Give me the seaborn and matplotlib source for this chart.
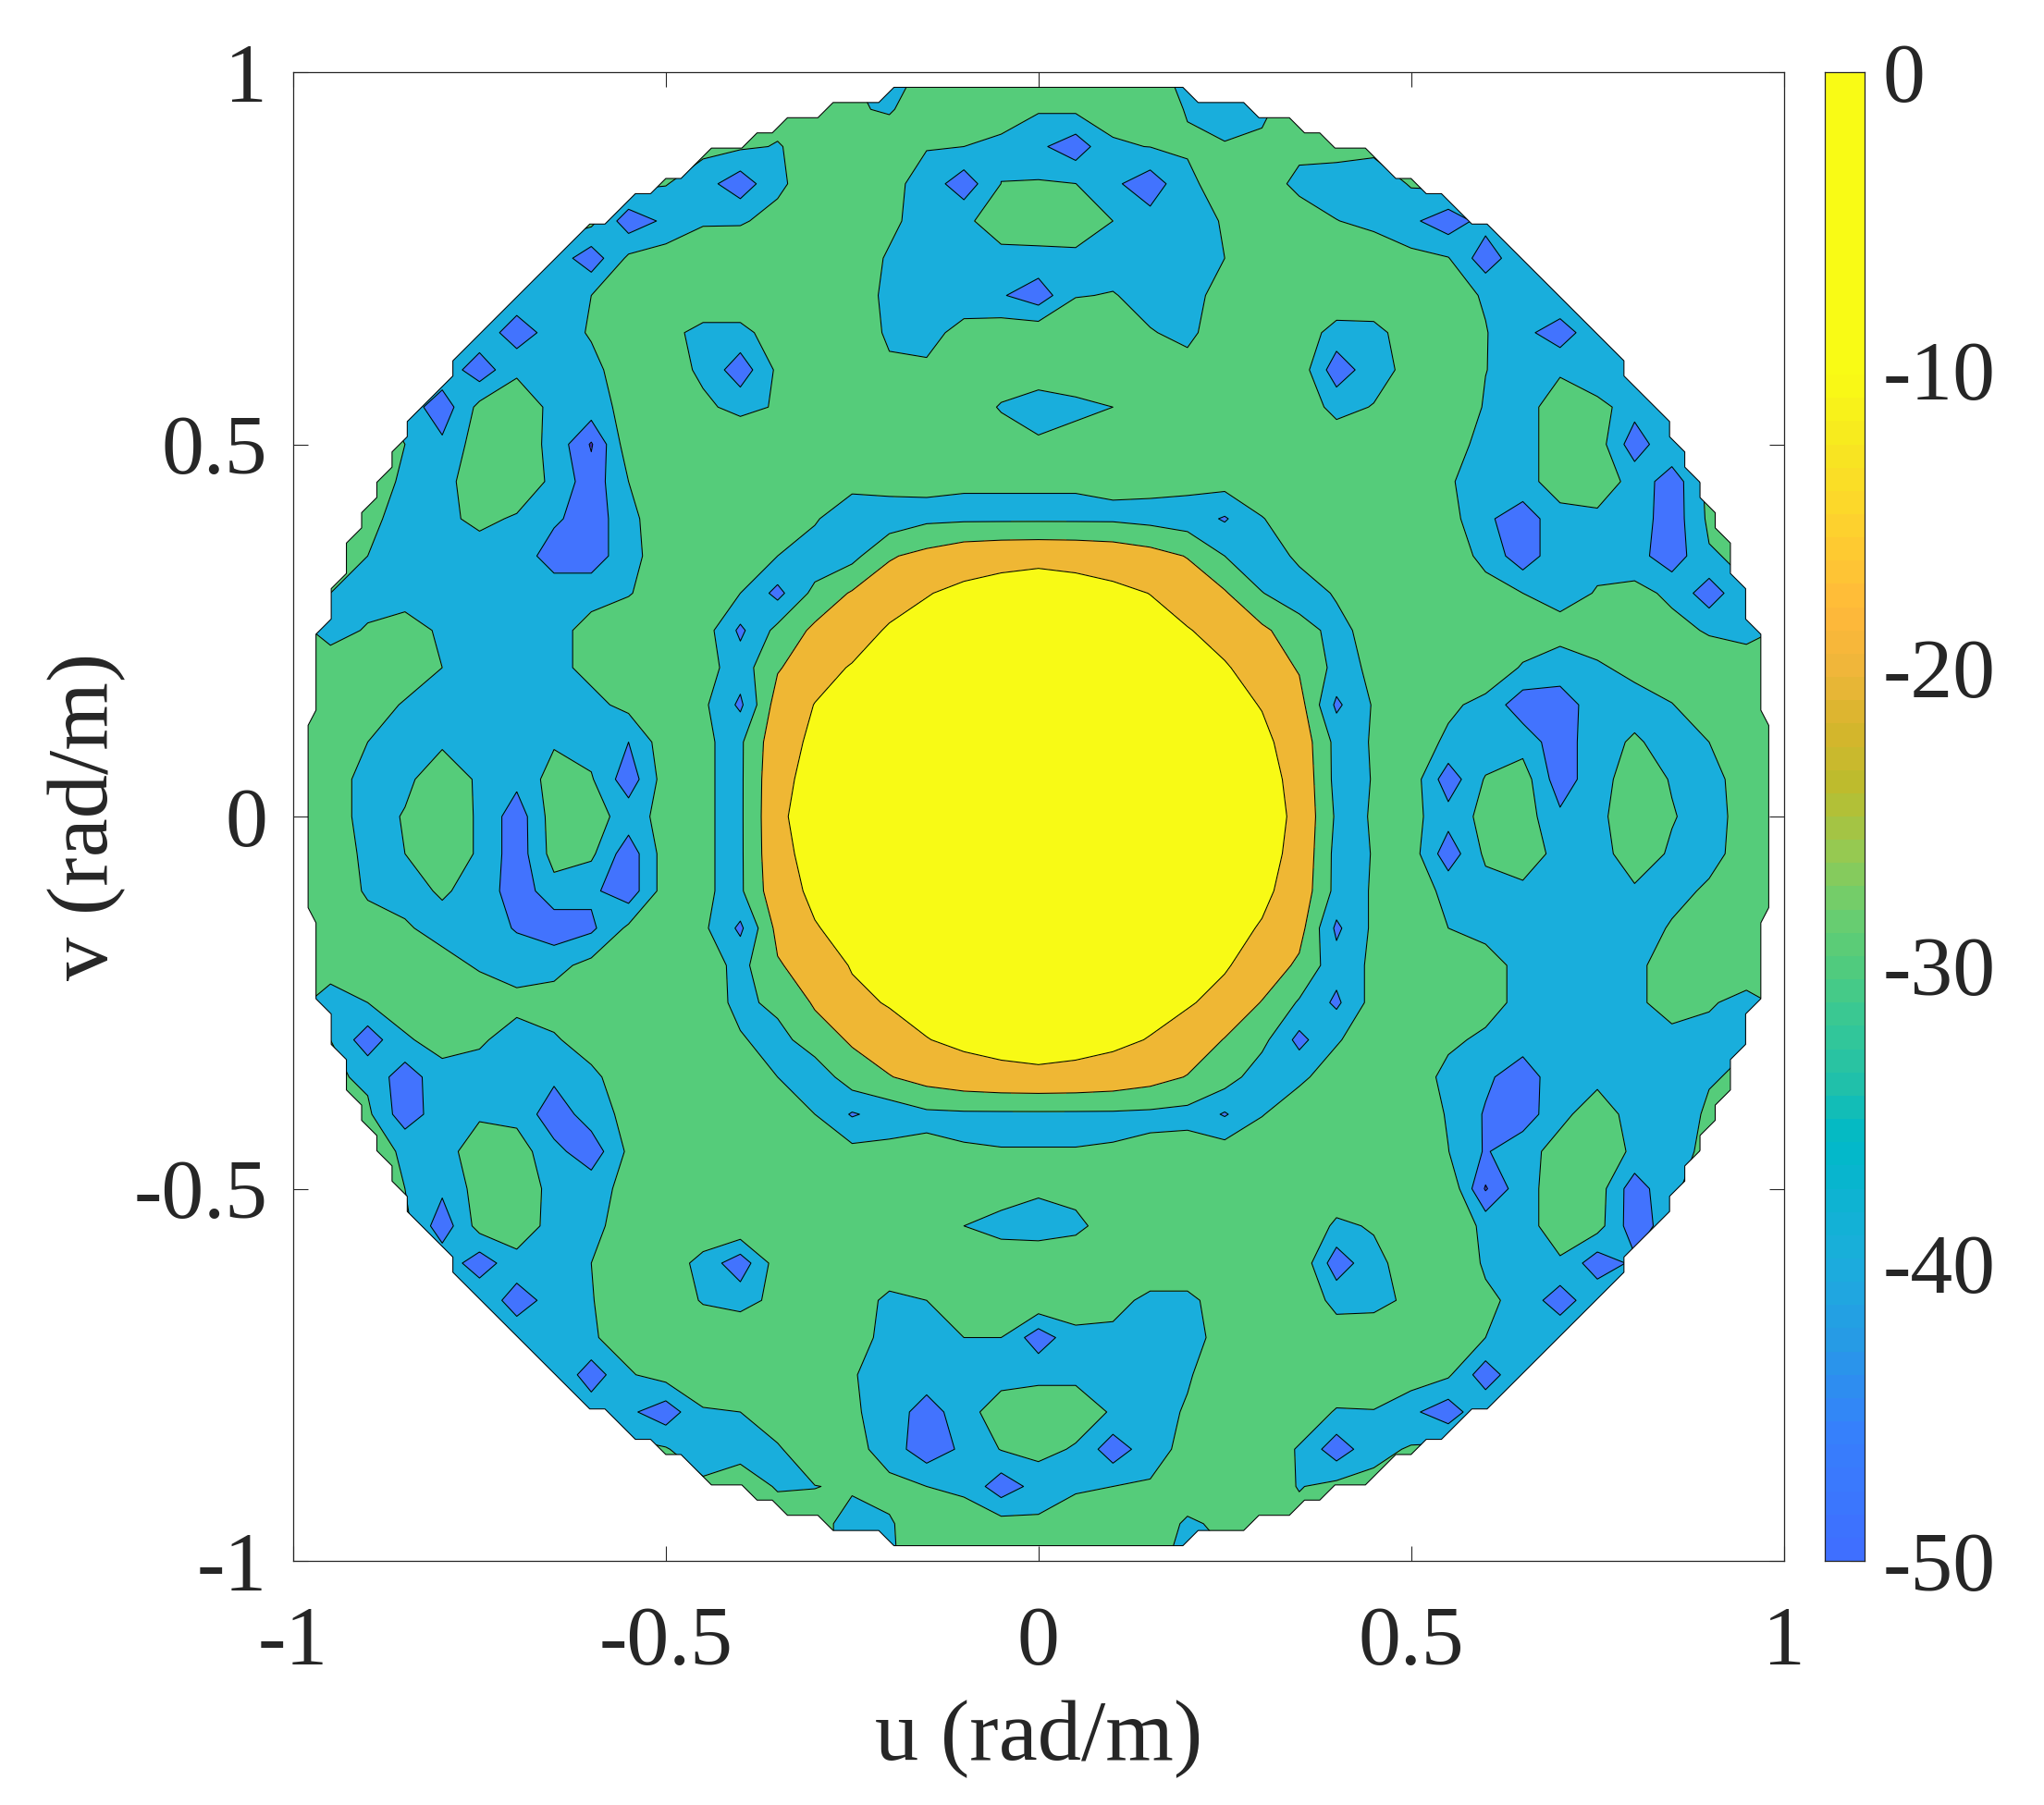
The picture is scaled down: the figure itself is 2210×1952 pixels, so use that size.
import numpy as np
import matplotlib
matplotlib.use("Agg")
import matplotlib.pyplot as plt
from matplotlib.colors import LinearSegmentedColormap
from matplotlib.patches import Polygon
import seaborn as sns

# Beam pattern in dB, v = +1 ... -1 (rows), u = -1 ... +1 (columns), step 0.05
u_axis = np.linspace(-1, 1, 41)
v_axis = np.linspace(1, -1, 41)
E = -27  # level outside the visible disc
pattern_db = [
 [E]*15+[-30,-36,E,E,E,E,E,E,E,-33,-36,-30]+[E]*14,
 [E]*15+[-29.5,-30.5,E,E,E,-29,-28,E,-26,-30.5,-36,-31]+[E]*14,
 [E]*12+[-28.5,-30.5,E,E,E,-29.5,-30,-31.5,-38,-46,-31,-29.8,-29,-29,-29,-29,E]+[E]*12,
 [E]*10+[-29.5,-36,-46,-32,-24.6,-25,E,-34,-46,-29.9,-29,-29.9,-38,-46,-32,-25.7,-28,-31,-34,-37,-29]+[E]*10,
 [E]*9+[-46,-38,-31,-31,E,-25,-25,-28,-34,-32,-25,-24,-25,-30,-36,-34,-29.2,-26,-28,-29.8,-32,-38,-46,-36]+[E]*8,
 [E]*7+[-34,-46,-28,-25,-24,-23,-23,-24,-25,-31,-35,-33,-33,-33,-32,-34,-35,-34,-30,-25,-24,-24,-25,E,-29.5,-46,-32,-29]+[E]*6,
 [E]*6+[-33,-38,-30,-25,-23,-22,-22,-22,-22,-23,-33,-35,-35,-39,-46,-30.5,-29.5,-33,-33,-26.8,-23,-22,-22,-23,-24,-26,-31,-38,-30]+[E]*6,
 [E]*5+[-33,-46,-35,-29,-24,E,-33,-33,-25,-22,-22,-32,-33,E,-24,-23,-22,-22,-29.5,-32,-25,-22,-24,-34,-33,-25,-24,-29.5,-37,-46,-32]+[E]*5,
 [E]*4+[-33,-46,-32,-33,-33,-24,-25,-32,-46,-28,-23,-21,-28,-28.5,-24,-23,-23,-22,-22,-23,E,-23,-22,-24,-46,-34,E,-24,-29.8,-34,-31,-40,-34,-30]+[E]*3,
 [E]*3+[-34,-46,E,-23,-33,-34,E,-26,-28,-33,-29,-24,-21,-21,-22,-23,-31,-36,-33,-30,-25,-23,-21,-21,-24,-33,-29.5,-24,-21,-31,-33,-26,-26,-36,-34,-30]+[E]*2,
 [E]*3+[-30,-38,-25,-24,-33,-51,-24,-22,-21,-21,-21,-21,-21,-21,-21,-21,-24,-28,-25,-23,-21,-21,-21,-21,-22,-24,-23,-21,-22,-36,-33,-26,-25,-46,-31,-28]+[E]*2,
 [E]*2+[E,-31,-33,-25,-24,-32,-46,-30,-24,-21,-21,-21,-22,-25,-26,-28.5,-29.3,-29.3,-29.3,-29.3,-28.5,-27.5,E,-26,-23,-22,-22,-22,-22,-28,-39,-33,-26,-25,-33,-46,E]+[E]*2,
 [E]*2+[-28,-33,-32,-28,-31,-38,-46,-33,-23,-23,-22,-23,-28.5,-40,-36,-32,-31.5,-31.5,-31.5,-31.5,-31.5,-33,-35,-41,-30.5,-24,-22,-22,-22,-26,-38,-46,-33,-32,-34,-46,-28]+[E]*2,
 [-28,-28,-30,-33,-34,-34,-33,-46,-46,-33,-25,-25,-26,-30,-37,-33,-21,-17,-13,-11.5,-11,-11.5,-13,-16,-20.5,-30,-36,-28,-22,-21,-21,-24,-33,-46,-33,-32,-36,-46,-31,-28,-28],
 [-28,-30,-32,-34,-34,-34,-34,-33,-33,-30.5,-26,-24,-30,-43,E,-19,-14,-10.3,-8.6,-8.2,-8,-8.2,-8.6,-10.1,-13.5,-19,-29.7,-35,-29,-23,-21,-21,-26,-30,-33,-29.5,E,-32,-46,-31,-28],
 [-28,-32,-29.5,-26,-31.5,-34,-35,-33,E,-25,-24,-25,-42,E,-18,-14,-9,-7.8,-6.8,-6.2,-6,-6.2,-6.8,-7.8,-9.6,-12.5,-18,-26,-33,-26,-22,-21,-22,-24,E,-26,-25,E,-31,-33,-29],
 [E,E,-25,-24,-30,-34,-34,-33,E,-25,-24,-26,-35,-21,-13,-9.4,-7.5,-6,-4.8,-4.2,-4,-4.2,-4.8,-6,-7.5,-9.4,-13,-21,-33,-28.5,-24,-22,-23,-31,-34,-31,-28,-25,-24,-25,-26],
 [-25,-24,-25,-31,-34,-34,-34,-34,-33,E,-23,-28,-42,-15,-9.8,-7.8,-6,-4.2,-3,-2.3,-2,-2.3,-3,-4.2,-6,-7.8,-10.3,-16,-42,-29,-24,-28,-33,-46,-46,-34,-33,-30.3,-25,-24,-24],
 [-24,-23,-30,-33,-31,-34,-33,-31,-34,-40,-24,-29.3,-31.5,-13,-8.6,-6.8,-4.8,-3,-1.8,-1.2,-1,-1.2,-1.8,-3,-4.8,-6.8,-8.6,-13,-33,-29.5,-24,-32,-38,-34,-46,-33,-29,-33,-30,-25,-24],
 [-23,-26,-33,-31.5,-26,-31,-37,-26,-29,-46,-25,-29.3,-31.5,-11.5,-8.2,-6.2,-4.2,-2.3,-1.2,-0.5,-0.3,-0.5,-1.2,-2.3,-4.2,-6.2,-8.2,-11.5,-33,-29.7,-24,-46,-29,-25,-46,-33,-26,-30.5,-33,-26,-24],
 [-24,-26,-33,-29.5,-25,-31,-46,-25,-26,-34,E,-29.3,-31.5,-11,-7.5,-6,-4,-2,-1,-0.3,0,-0.3,-1,-2,-4,-6,-8,-11,-31.5,-29.7,E,-36,E,-25,-38,-32,-25,-29.5,-33,E,-25],
 [-24,-25,-32,-30,-25,-31,-46,-26,-28,-46,-25,-29.3,-31.5,-11.5,-8.2,-6.2,-4.2,-2.3,-1.2,-0.5,-0.3,-0.5,-1.2,-2.3,-4.2,-6.2,-8.2,-11.5,-33,-29.7,-25,-46,-28,-25,-33,-33,-26,-31,-33,-26,-25],
 [-25,-25,-31,-33,-29,-33,-46,-34,-38,-46,-25,-29.3,-31.5,-13,-8.6,-6.8,-4.8,-3,-1.8,-1.2,-1,-1.2,-1.8,-3,-4.8,-6.8,-8.6,-13,-33,-29.5,-24,-33,-34,-32,-33,-34,-31,-33,-28.5,-24,-24],
 [-26,-25,E,-29,-33,-34,-41,-46,-42,-28,-24,-28,-42,-17,-10.4,-7.8,-6,-4.2,-3,-2.3,-2,-2.3,-3,-4.2,-6,-7.8,-10.5,-16,-42,-28,-24,-30,-33,-34,-35,-36,-35,-29,-24,-24,-25],
 [E,E,-25,-25,E,-31,-33,-33,E,-25,-24,-25,-33,-21,-15,-9.4,-7.5,-6,-4.8,-4.2,-4,-4.2,-4.8,-6,-7.5,-9.4,-13,-22,-36,-28,-24,-22,-26,-33,-35,-35,-32,-26,-24,-24,-26],
 [-28,-33,-30,-26,-24,-25,-28,-26,-24,-23,-23,-24,-33,E,-19,-12,-9.4,-7.8,-6.8,-6.2,-6,-6.2,-6.8,-7.8,-9.4,-12,-20.5,-31,-42,-26,-23,-22,-26,-33,-35,-35,-32,-26,-29,-33,-28],
 [-28,-30,-46,-31,E,-29,-33,-31,-26,-24,-23,-24,-29,-34,-24,-19,-13.5,-10.2,-8.6,-8.2,-8,-8.2,-8.6,-10.3,-13,-20.5,E,-43,-31,-24,-23,-28,-32,-35,-35,-35,-34,-33,-33,-31,-28],
 [-28,-28,-32,-46,-33,-33,-35,-38,-32,-25,-23,-24,-25,-30,-37,-24,-20.5,-16,-13,-11.5,-11,-11.5,-13,-16,-20.5,-25,-36,-32,-25,-23,-24,-33,-38,-46,-33,-32,-33,-33,-31,-28,-28],
 [-28,-28,-28,-46,-34,-31,-33,-46,-35,E,-23,-23,-24,-24,-30,-41,-36,-32,-31.5,-31.5,-31.5,-31.5,-31.5,-32,-33,-41,-30.5,-24,-23,-22,-22,-31,-41,-46,-32,-26,-33,-37,-28,E,E],
 [E,E,E,-31,-33,-26,-25,-37,-46,-28,-23,-22,-22,-23,-24,E,E,-28,-29.5,-29.8,-29.8,-29.8,-29.5,-28,-26,-25,-23,-22,-22,-22,-22,-29.8,-41,-33,E,-25,-31.5,-33,-28,E,E],
 [E,E,E,-30,-38,-26,-24,-33,-34,E,-23,-21,-21,-21,-21,-21,-21,-21,-21,-23,-28,-26,-23,-21,-21,-21,-21,-22,-23,-23,-22,-21,-51,-33,-26,-25,-46,-31,E,E,E],
 [E,E,E,E,-46,-26,-25,-33,-33,-25,-23,-21,-21,-21,-21,-21,-21,-21,-30,-35,-36,-33,-24,-21,-21,-21,-21,-21,-32,-29,-24,-21,-33,-33,-26,-26,-46,-34,-28,E,E],
 [E,E,E,E,-33,-46,-33,-33,-30,-24,-23,-34,-46,-25,-22,-21,-21,-21,-21,-21,-21,-21,-21,-21,-21,-21,-21,-22,-46,-33,-25,-21,-31.5,-33,-31,-46,-38,-30,E,E,E],
 [E,E,E,E,E,-31,-46,-35,-30.5,-24,-23,-31,-34,E,-22,-23,-33,-30,-24,-22,-21,-24,-26,-33,-33,-24,-21,-23,-33,-33,-28,-24,-28,-33,-46,-32,-29,E,E,E,E],
 [E,E,E,E,E,E,-32,-38,-31,-26,-23,-22,-21,-21,-21,-26,-33,-34,-30,-30,-46,-33,-33,-34,-34,-26,-22,-22,-25,-24,-22,-22,-30,-36,-31,E,E,E,E,E,E],
 [E]*7+[-30,-46,-31,-26,-23,-22,-22,-23,-29.5,-33,-33,-33,-33,-32,-32,-33,-34,-31,-24,-22,-22,-22,-23,-24,-28.5,-46,-31]+[E]*7,
 [E]*8+[-33,-38,-46,-31,-30,-25,-23,-29,-33,-46,-33,-26,-25,-25,-31,-34,-29,-24,-22,-23,-31,-30.5,-38,-46,-31]+[E]*8,
 [E]*10+[-29,-38,-32,-31,-24,-26,-35,-46,-38,-29.5,E,-31,-46,-34,E,-24,-23,-31,-46,-33,-29]+[E]*10,
 [E]*12+[E,-30.5,-30.2,-29,E,-30,-32,-46,-36,-31,-30,-29,-24,-23,-25,-30.5,E]+[E]*12,
 [E]*15+[-33,-31,-24,-25,-26,-28,-26,-25,-24,-31.5,-28]+[E]*15,
 [E]*15+[-33,-31,-26,-25,-25,-25,-25,-25,-25,-35,-31]+[E]*15,
]

contour_levels = [-50, -40, -30, -20, -10]
band_colors = ["#3F2DB4", "#4273FE", "#19AEDC", "#55CC7A", "#EFB734", "#F8FA15"]
tick_values = [-1, -0.5, 0, 0.5, 1]
tick_labels = ["-1", "-0.5", "0", "0.5", "1"]
cbar_ticks = [0, -10, -20, -30, -40, -50]
cbar_stops = [(-50, "#3F6FFF"), (-46, "#3680FB"), (-43, "#279AE6"), (-40, "#1AAEDB"), (-36, "#00B9C8"),
              (-34, "#22C0A8"), (-32, "#37C895"), (-30, "#52CB7C"), (-28, "#6FCE6C"), (-26, "#9AC84E"),
              (-24, "#BCBC2D"), (-22, "#D6B52C"), (-20, "#EFB63A"), (-18, "#FFB83A"), (-15, "#FDD22E"),
              (-12, "#F7EA1E"), (-10, "#F9FB15"), (0, "#F9FB15")]

INK = "#262626"
sns.set_theme(style="ticks", rc={
    "font.family": ["Liberation Serif", "DejaVu Serif"], "font.size": 66,
    "axes.unicode_minus": False, "axes.linewidth": 0.9, "axes.edgecolor": INK,
    "text.color": INK, "axes.labelcolor": INK, "xtick.color": INK, "ytick.color": INK,
    "xtick.direction": "in", "ytick.direction": "in",
    "xtick.major.size": 11.5, "ytick.major.size": 11.5,
    "xtick.major.width": 0.8, "ytick.major.width": 0.8,
    "xtick.labelsize": 66, "ytick.labelsize": 66, "axes.labelsize": 68,
    "xtick.top": True, "ytick.right": True,
})

W, H = 2210, 1952
fig = plt.figure(figsize=(W / 100, H / 100), dpi=100, facecolor="white")
ax = fig.add_axes([317 / W, (H - 1688) / H, 1611.5 / W, 1610 / H])
ax.set_facecolor("white")

Z = np.array(pattern_db, dtype=float)
levels = [-200] + contour_levels + [1]
filled = ax.contourf(u_axis, v_axis, Z, levels=levels, colors=band_colors, antialiased=False)
lines = ax.contour(u_axis, v_axis, Z, levels=contour_levels, colors="black", linewidths=0.75, linestyles="solid")

# stepped edge of the visible disc: the pattern is sampled on a 2/98 grid inside the unit circle
d = 2 / 98
cap = 0.98
rows = np.arange(48, -49, -1) * d
half = (np.floor(np.sqrt(1 - rows**2) / d - 0.5) + 0.5) * d
pts = []
for i, (vv, uu) in enumerate(zip(rows, half)):
    pts.append((min(uu, cap), vv))
    if i + 1 < len(rows):
        nv, nu = rows[i + 1], half[i + 1]
        if nu > uu + 1e-9:
            pts.append((min(uu + d, cap), nv))
        elif nu < uu - 1e-9:
            pts.append((min(nu + d, cap), vv))
pts = pts + [(-a, b) for a, b in reversed(pts)]
edge = Polygon(pts, closed=True, transform=ax.transData, facecolor="none", edgecolor="black", lw=0.75, zorder=5)
ax.add_patch(edge)
filled.set_clip_path(edge)
lines.set_clip_path(edge)

ax.set_xlim(-1, 1)
ax.set_ylim(-1, 1)
ax.set_xticks(tick_values, tick_labels)
ax.set_yticks(tick_values, tick_labels)
ax.tick_params(axis="x", pad=35)
ax.tick_params(axis="y", pad=20)
ax.set_xlabel("u (rad/m)", labelpad=14)
ax.set_ylabel("v (rad/m)", labelpad=6)
sns.despine(ax=ax, top=False, right=False)

# colour bar
cmap = LinearSegmentedColormap.from_list("bar", [((v + 50) / 50, c) for v, c in cbar_stops], N=64)
cax = fig.add_axes([1973 / W, (H - 1688) / H, 43 / W, 1610 / H])
N = 64
bar = np.linspace(0, -50, N).reshape(-1, 1)
sns.heatmap(bar, ax=cax, cmap=cmap, vmin=-50, vmax=0, cbar=False, xticklabels=False, yticklabels=False)
cax.set_yticks([-t / 50 * N for t in cbar_ticks], [str(t) for t in cbar_ticks], rotation=0)
cax.yaxis.tick_right()
cax.tick_params(axis="y", direction="in", length=11.5, width=0.8, pad=14, left=False, right=True)
cax.tick_params(axis="x", bottom=False, top=False)
for s in cax.spines.values():
    s.set_visible(True)
    s.set_linewidth(0.9)
    s.set_edgecolor(INK)

fig.savefig("out.png", dpi=100, facecolor="white")
